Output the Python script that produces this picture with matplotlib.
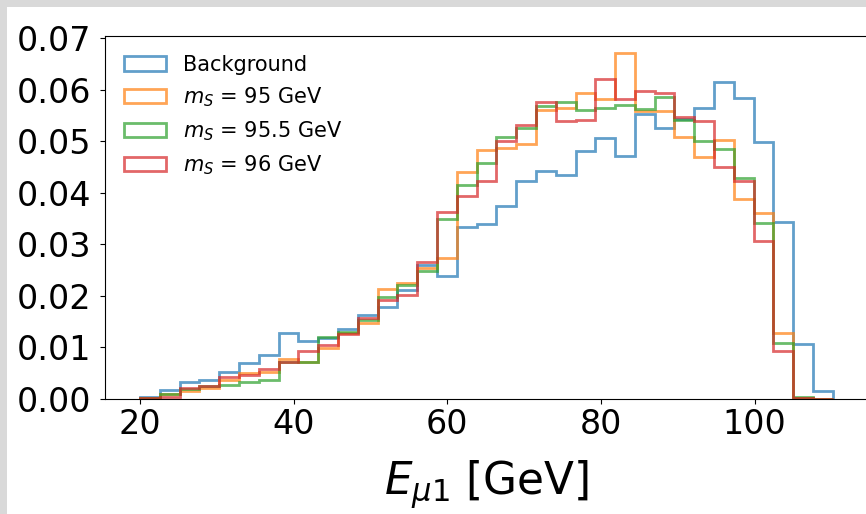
import numpy as np
import matplotlib
matplotlib.use("Agg")
import matplotlib.pyplot as plt
from matplotlib.patches import Rectangle

# normalised leading-muon energy distributions, 35 bins between 20 and 110.2 GeV
edges = np.linspace(20.0, 110.2, 36)

background = [0.0003, 0.0017, 0.0033, 0.0036, 0.0052, 0.0069, 0.0085, 0.0128, 0.0112,
              0.0117, 0.0136, 0.0162, 0.0178, 0.0211, 0.0260, 0.0238, 0.0333, 0.0340,
              0.0374, 0.0422, 0.0443, 0.0435, 0.0481, 0.0506, 0.0471, 0.0553, 0.0525,
              0.0543, 0.0565, 0.0616, 0.0585, 0.0498, 0.0343, 0.0106, 0.0015]
ms_95 = [0.0002, 0.0010, 0.0015, 0.0020, 0.0036, 0.0050, 0.0052, 0.0078, 0.0072,
         0.0098, 0.0128, 0.0147, 0.0214, 0.0224, 0.0253, 0.0273, 0.0441, 0.0484,
         0.0488, 0.0495, 0.0561, 0.0564, 0.0593, 0.0582, 0.0671, 0.0558, 0.0558,
         0.0509, 0.0470, 0.0503, 0.0388, 0.0360, 0.0127, 0.0002, 0.0]
ms_955 = [0.0002, 0.0010, 0.0018, 0.0024, 0.0027, 0.0032, 0.0036, 0.0071, 0.0071,
          0.0120, 0.0130, 0.0152, 0.0198, 0.0220, 0.0249, 0.0350, 0.0415, 0.0457,
          0.0508, 0.0525, 0.0569, 0.0577, 0.0560, 0.0565, 0.0571, 0.0563, 0.0587,
          0.0541, 0.0500, 0.0485, 0.0428, 0.0341, 0.0109, 0.0004, 0.0]
ms_96 = [0.0002, 0.0003, 0.0020, 0.0024, 0.0043, 0.0046, 0.0057, 0.0071, 0.0093,
         0.0105, 0.0125, 0.0156, 0.0191, 0.0201, 0.0266, 0.0362, 0.0393, 0.0422,
         0.0500, 0.0532, 0.0577, 0.0540, 0.0541, 0.0622, 0.0582, 0.0598, 0.0593,
         0.0547, 0.0539, 0.0450, 0.0422, 0.0306, 0.0093, 0.0001, 0.0]

labels = ["Background", r"$m_S$ = 95 GeV", r"$m_S$ = 95.5 GeV", r"$m_S$ = 96 GeV"]
series = [background, ms_95, ms_955, ms_96]

centers = 0.5 * (edges[:-1] + edges[1:])

fig = plt.figure(figsize=(8.66, 5.14), dpi=100)
fig.patch.set_facecolor("#d9d9d9")
fig.add_artist(Rectangle((7 / 866, 0), 1, 1 - 7 / 514, transform=fig.transFigure,
                         facecolor="white", edgecolor="none", zorder=-1))

ax = fig.add_axes([0.1218, 0.2243, 0.8799, 0.7056])
for vals, lab in zip(series, labels):
    ax.hist(centers, bins=edges, weights=vals, histtype="step", lw=2, alpha=0.7, label=lab)

ax.set_xlabel(r"$E_{\mu1}$ [GeV]", fontsize=31.5, labelpad=12)
ax.tick_params(labelsize=24)
ax.tick_params(axis="y", pad=6.5)
ax.set_yticks([0.0, 0.01, 0.02, 0.03, 0.04, 0.05, 0.06, 0.07])
ax.legend(loc="upper left", fontsize=15, frameon=False)

fig.savefig("out.png", dpi=100)
